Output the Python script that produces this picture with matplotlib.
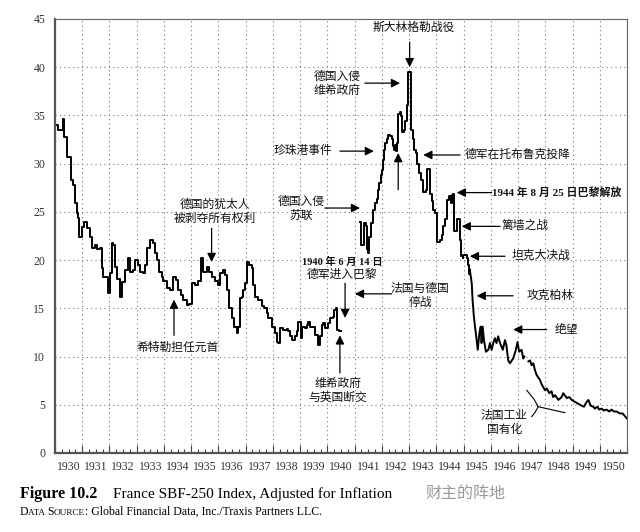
import numpy as np
import matplotlib
matplotlib.use("Agg")
from matplotlib import pyplot as plt

# inflation adjusted SBF-250 (decimal year, index)
years = [
    1930.00, 1930.11, 1930.28, 1930.33, 1930.43, 1930.58, 1930.66, 1930.73, 1930.80, 1930.84,
    1930.89, 1930.98, 1931.06, 1931.16, 1931.28, 1931.35, 1931.47, 1931.53, 1931.65, 1931.71,
    1931.76, 1931.90, 1931.95, 1932.02, 1932.08, 1932.13, 1932.20, 1932.27, 1932.39, 1932.45,
    1932.57, 1932.68, 1932.75, 1932.86, 1932.94, 1933.05, 1933.12, 1933.22, 1933.30, 1933.39,
    1933.49, 1933.59, 1933.67, 1933.76, 1933.83, 1933.92, 1933.98, 1934.10, 1934.22, 1934.34,
    1934.44, 1934.53, 1934.61, 1934.71, 1934.83, 1934.93, 1935.02, 1935.14, 1935.26, 1935.35,
    1935.44, 1935.57, 1935.66, 1935.75, 1935.87, 1935.99, 1936.06, 1936.16, 1936.24, 1936.30,
    1936.39, 1936.49, 1936.57, 1936.67, 1936.73, 1936.79, 1936.85, 1936.91, 1936.99, 1937.04,
    1937.13, 1937.22, 1937.28, 1937.34, 1937.46, 1937.59, 1937.67, 1937.77, 1937.83, 1937.95,
    1938.08, 1938.14, 1938.20, 1938.26, 1938.38, 1938.51, 1938.56, 1938.63, 1938.69, 1938.81,
    1938.87, 1938.93, 1939.02, 1939.08, 1939.18, 1939.24, 1939.30, 1939.36, 1939.54, 1939.67,
    1939.73, 1939.79, 1939.85, 1939.91, 1940.03, 1940.10, 1940.19, 1940.24, 1940.32, 1940.36,
    1940.44, 1940.50,
    1941.20, 1941.22, 1941.34, 1941.42, 1941.44, 1941.50, 1941.54, 1941.59, 1941.69, 1941.75,
    1941.81, 1941.87, 1941.91, 1941.96, 1941.99, 1942.03, 1942.08, 1942.13, 1942.18, 1942.24,
    1942.30, 1942.36, 1942.40, 1942.44, 1942.48, 1942.52, 1942.57, 1942.60, 1942.67, 1942.70,
    1942.73, 1942.81, 1942.85, 1942.91, 1942.95, 1942.97, 1943.07, 1943.13, 1943.18, 1943.25,
    1943.30, 1943.37, 1943.42, 1943.50, 1943.52, 1943.62, 1943.67, 1943.77, 1943.83, 1943.89,
    1943.95, 1944.01, 1944.13, 1944.20, 1944.25, 1944.32, 1944.38, 1944.40, 1944.46, 1944.53,
    1944.56, 1944.62, 1944.65, 1944.75, 1944.87, 1944.89, 1944.97, 1944.99, 1945.11, 1945.17,
    1945.21, 1945.23,
    1945.30, 1945.33, 1945.38, 1945.42, 1945.48, 1945.52, 1945.58, 1945.63, 1945.66, 1945.70,
    1945.75, 1945.82, 1945.91, 1945.97, 1946.03, 1946.09, 1946.15, 1946.21, 1946.27, 1946.34,
    1946.44, 1946.52, 1946.57, 1946.64, 1946.70, 1946.82, 1946.92, 1946.98, 1947.04, 1947.13,
    1947.19, 1947.23, 1947.30,
    1947.38, 1947.44, 1947.50, 1947.56, 1947.62, 1947.68, 1947.80, 1947.87, 1947.93, 1947.99,
    1948.05, 1948.15, 1948.23, 1948.29, 1948.36, 1948.48, 1948.60, 1948.66, 1948.79, 1948.88,
    1948.97, 1949.09, 1949.21, 1949.34, 1949.42, 1949.52, 1949.58, 1949.67, 1949.76, 1949.82,
    1949.91, 1949.98, 1950.07, 1950.15, 1950.25, 1950.35, 1950.43, 1950.52, 1950.62, 1950.74,
    1950.84, 1950.93, 1950.99,
]
index = [
    34.0, 33.5, 34.6, 32.8, 30.7, 28.3, 27.8, 25.9, 24.9, 24.4,
    22.4, 23.4, 24.0, 23.3, 22.4, 21.3, 21.6, 21.1, 21.3, 19.2,
    18.2, 18.3, 16.6, 18.7, 21.8, 21.6, 19.3, 18.0, 16.2, 17.7,
    19.0, 20.2, 18.8, 19.0, 20.0, 19.5, 18.8, 18.7, 19.5, 21.3,
    22.1, 21.8, 20.7, 20.0, 18.8, 18.2, 17.8, 17.1, 16.9, 18.3,
    17.9, 16.9, 16.4, 15.9, 15.3, 15.5, 17.6, 17.4, 17.8, 20.2,
    18.8, 19.3, 18.8, 18.3, 17.8, 17.4, 18.7, 19.0, 18.5, 16.9,
    15.0, 14.0, 13.1, 12.4, 13.1, 16.1, 16.2, 16.9, 17.6, 19.8,
    19.5, 19.2, 17.4, 16.2, 15.9, 15.2, 15.0, 14.5, 14.0, 13.1,
    12.4, 11.5, 11.4, 13.0, 12.8, 12.9, 12.6, 12.1, 11.7, 12.1,
    12.6, 13.6, 11.9, 13.1, 13.0, 13.3, 13.6, 13.1, 12.2, 11.2,
    12.1, 13.3, 13.5, 13.0, 13.5, 14.0, 14.1, 14.8, 15.0, 12.8,
    12.6, np.nan,
    24.0, 21.6, 23.8, 23.5, 21.1, 20.7, 22.4, 23.8, 25.2, 25.9,
    26.3, 27.3, 28.0, 28.8, 29.3, 30.4, 31.4, 32.1, 32.6, 33.0,
    32.9, 32.6, 31.8, 31.4, 31.9, 31.3, 32.1, 35.2, 35.4, 34.9,
    33.3, 33.5, 34.4, 36.1, 36.3, 39.5, 33.5, 32.6, 31.4, 31.1,
    30.0, 29.0, 28.3, 27.6, 27.1, 27.3, 29.4, 26.9, 26.1, 25.2,
    24.9, 21.9, 22.1, 22.6, 23.5, 24.3, 25.6, 26.2, 26.6, 25.9,
    26.8, 26.9, 23.0, 24.3, 22.1, 20.4, 20.2, 20.5, 20.2, 19.5,
    18.6, 19.0,
    17.6, 15.9, 14.1, 13.1, 11.7, 10.7, 12.4, 13.1, 11.4, 13.1,
    11.7, 10.5, 10.7, 11.4, 10.7, 11.4, 11.9, 11.4, 12.1, 11.4,
    10.7, 11.7, 11.2, 9.6, 9.3, 9.8, 10.7, 11.5, 10.5, 10.7,
    9.8, 10.0, np.nan,
    9.5, 9.6, 9.1, 9.3, 8.6, 8.1, 7.6, 7.1, 6.8, 6.5,
    6.7, 6.2, 6.4, 5.8, 6.0, 5.5, 5.8, 6.2, 5.7, 5.8,
    5.5, 5.3, 5.1, 4.9, 4.8, 5.3, 5.5, 4.9, 4.8, 4.6,
    4.8, 4.5, 4.6, 4.4, 4.5, 4.3, 4.5, 4.3, 4.3, 4.1,
    4.1, 3.8, 3.6,
]
year_labels = [str(y) for y in range(1930, 1951)]

# event labels
events = [
    "斯大林格勒战役", "德国入侵\n维希政府", "珍珠港事件", "德军在托布鲁克投降",
    "1944 年 8 月 25 日巴黎解放", "篱墙之战", "坦克大决战", "攻克柏林", "绝望",
    "法国工业\n国有化", "法国与德国\n停战", "维希政府\n与英国断交", "德国入侵\n苏联",
    "德国的犹太人\n被剥夺所有权利", "希特勒担任元首",
]
paris_1940 = ["1940 年 6 月 14 日", "德军进入巴黎"]

years = np.array(years)
index = np.array(index, dtype=float)

fonts = ['Liberation Serif', 'Noto Sans CJK SC', 'DejaVu Sans']
plt.rcParams['font.family'] = fonts

fig = plt.figure(figsize=(6.4, 5.32), dpi=100)
ax = fig.add_axes([0.0859, 0.1485, 0.8938, 0.8158])

step_part = years <= 1945.23
line_part = years >= 1945.23
ax.plot(years[step_part], index[step_part], color='black', lw=1.4, drawstyle='steps-post')
ax.plot(years[line_part], index[line_part], color='black', lw=1.4)

ax.set_xlim(1930, 1951)
ax.set_ylim(0, 45)
ax.set_xticks(np.arange(1930, 1952))
ax.set_xticks(np.arange(1930, 1951, 0.25), minor=True)
ax.set_xticklabels([])
ax.set_yticks(np.arange(0, 46, 5))
ax.tick_params(axis='x', which='major', direction='in', length=6, width=0.8, color='#444')
ax.tick_params(axis='x', which='minor', direction='in', length=3, width=0.8, color='#444')
ax.tick_params(axis='y', length=0, pad=7, labelsize=8.5, labelcolor='#333')
for lab in ax.get_yticklabels():
    lab.set_family('Liberation Serif')
ax.grid(True, which='major', ls=(0, (1, 3)), color='#777', lw=0.8)
for i, lab in enumerate(year_labels):
    ax.text(1930.5 + i, -0.018, lab, transform=ax.get_xaxis_transform(),
            ha='center', va='top', fontsize=8.5, color='#333', family='Liberation Serif')
for s in ax.spines.values():
    s.set_color('#666')
    s.set_linewidth(0.8)
ax.spines['left'].set_linewidth(1.6)
ax.spines['left'].set_color('#555')
ax.spines['bottom'].set_linewidth(1.6)
ax.spines['bottom'].set_color('#555')

fs = 8.5
arr = dict(arrowstyle='-|>', color='black', lw=0.9, mutation_scale=13, shrinkA=0, shrinkB=0)

def label(x, y, txt, ha='center', weight='normal', size=fs):
    ax.text(x, y, txt, ha=ha, va='center', fontsize=size, linespacing=1.2,
            family=fonts, fontweight=weight, color='#111')

def arrow(x0, y0, x1, y1):
    ax.annotate('', xy=(x1, y1), xytext=(x0, y0), arrowprops=arr)

label(1943.18, 44.1, events[0]); arrow(1943.02, 42.6, 1943.02, 40.0)
label(1940.35, 38.3, events[1]); arrow(1941.38, 38.35, 1942.67, 38.35)
label(1939.10, 31.3, events[2]); arrow(1940.46, 31.3, 1941.71, 31.3)
label(1945.05, 30.9, events[3], ha='left'); arrow(1944.87, 30.9, 1943.52, 30.9)
arrow(1942.60, 27.3, 1942.60, 31.1)
label(1946.04, 27.0, events[4], ha='left', weight='bold', size=7.9); arrow(1946.03, 27.0, 1944.75, 27.0)
label(1946.41, 23.5, events[5], ha='left'); arrow(1946.34, 23.5, 1944.93, 23.5)
label(1946.78, 20.4, events[6], ha='left'); arrow(1946.52, 20.4, 1945.23, 20.4)
label(1947.33, 16.3, events[7], ha='left'); arrow(1946.82, 16.3, 1945.48, 16.3)
label(1948.36, 12.8, events[8], ha='left'); arrow(1948.05, 12.8, 1946.82, 12.8)
label(1946.50, 3.1, events[9])
ax.plot([1947.32, 1947.58, 1947.74, 1947.62, 1947.50], [6.5, 5.6, 4.8, 4.2, 3.77], color='black', lw=0.8)
ax.plot([1947.74, 1948.72], [4.8, 4.18], color='black', lw=0.8)
label(1943.40, 16.3, events[10]); arrow(1942.36, 16.5, 1941.01, 16.5)
label(1940.39, 6.4, events[11]); arrow(1940.46, 8.3, 1940.46, 12.2)
label(1939.03, 25.3, events[12]); arrow(1939.91, 25.4, 1941.20, 25.4)
label(1935.87, 25.0, events[13]); arrow(1935.75, 23.3, 1935.75, 19.8)
label(1934.50, 10.9, events[14]); arrow(1934.37, 12.2, 1934.37, 15.9)
label(1940.54, 19.8, paris_1940[0], weight='bold', size=7.5)
label(1940.54, 18.5, paris_1940[1]); arrow(1940.65, 17.6, 1940.65, 14.0)

# caption
fig.text(0.031, 0.064, "Figure 10.2", fontsize=11.5, fontweight='bold',
         family='Liberation Serif', va='baseline')
fig.text(0.177, 0.064, "France SBF-250 Index, Adjusted for Inflation", fontsize=11,
         family='Liberation Serif', va='baseline')
fig.text(0.664, 0.064, "财主的阵地", fontsize=11.5, color='#999',
         family=['Noto Sans CJK SC'], va='baseline')

renderer = fig.canvas.get_renderer()
x = 0.031
for txt, size in [("D", 8.5), ("ATA ", 6.6), ("S", 8.5), ("OURCE", 6.6),
                  (": Global Financial Data, Inc./Traxis Partners LLC.", 8.5)]:
    t = fig.text(x, 0.032, txt, fontsize=size, family='Liberation Serif', va='baseline')
    x += t.get_window_extent(renderer).width / fig.bbox.width

fig.savefig("out.png", dpi=100)
